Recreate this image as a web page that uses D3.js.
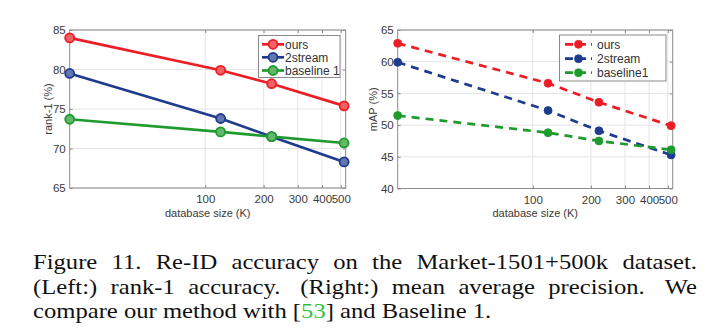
<!DOCTYPE html>
<html>
<head>
<meta charset="utf-8">
<script src="https://cdn.jsdelivr.net/npm/d3@7"></script>
<style>
  body { margin: 0; background: #fff; }
  svg { display: block; }
</style>
</head>
<body>
<svg id="fig" width="720" height="332"></svg>
<script>
// Database size (thousands of gallery images) at which each method was evaluated
const sizesK = [20, 120, 220, 520];
const xTickValues = [100, 200, 300, 400, 500];

// Rank-1 accuracy (%)
const rank1Ours = [84.0, 79.9, 78.2, 75.4];
const rank1TwoStream = [79.5, 73.8, 71.5, 68.3];
const rank1Baseline = [73.7, 72.1, 71.5, 70.7];
const rank1Ticks = [65, 70, 75, 80, 85];
const rank1Names = ["ours", "2stream", "baseline 1"];

// Mean average precision (%)
const mapOurs = [62.9, 56.6, 53.6, 49.9];
const mapTwoStream = [59.9, 52.3, 49.1, 45.3];
const mapBaseline = [51.5, 48.8, 47.5, 46.1];
const mapTicks = [40, 45, 50, 55, 60, 65];
const mapNames = ["ours", "2stream", "baseline1"];

const seriesColors = ["#ec1d24", "#1f3b8e", "#1f9a2c"];

const captionLines = [
  { text: "Figure 11. Re-ID accuracy on the Market-1501+500k dataset.", justify: true },
  { text: "(Left:) rank-1 accuracy.  (Right:) mean average precision.  We", justify: true },
  { text: "compare our method with [53] and Baseline 1.", justify: false }
];

const svg = d3.select("#fig");
const fontSans = "'Liberation Sans', Arial, Helvetica, sans-serif";
const fontSerif = "'Liberation Serif', 'Times New Roman', serif";

function panel(cfg) {
  const g = svg.append("g");
  const x = d3.scaleLog().domain([20, 530]).range([cfg.x0, cfg.x1]);
  const y = d3.scaleLinear().domain([cfg.yTicks[0], cfg.yTicks[cfg.yTicks.length - 1]]).range([cfg.y1, cfg.y0]);

  // background + grid
  g.append("rect").attr("x", cfg.x0).attr("y", cfg.y0)
    .attr("width", cfg.x1 - cfg.x0).attr("height", cfg.y1 - cfg.y0).attr("fill", "#fff");
  g.append("g").selectAll("line").data(xTickValues).join("line")
    .attr("x1", d => x(d)).attr("x2", d => x(d))
    .attr("y1", cfg.y0).attr("y2", cfg.y1)
    .attr("stroke", "#e4e4e4").attr("stroke-width", 1);
  g.append("g").selectAll("line").data(cfg.yTicks).join("line")
    .attr("x1", cfg.x0).attr("x2", cfg.x1)
    .attr("y1", d => y(d)).attr("y2", d => y(d))
    .attr("stroke", "#e4e4e4").attr("stroke-width", 1);

  // axes (ticks pointing inward on all four sides)
  const styleAxis = sel => {
    sel.select(".domain").remove();
    sel.selectAll(".tick line").attr("stroke", "#8a8a8a");
    sel.selectAll("text").attr("fill", "#3a3a3a")
      .attr("font-family", fontSans).attr("font-size", 11.5);
  };
  g.append("g").attr("transform", `translate(0,${cfg.y1})`)
    .call(d3.axisBottom(x).tickValues(xTickValues).tickFormat(d3.format("d")).tickSize(-3).tickPadding(7))
    .call(styleAxis);
  g.append("g").attr("transform", `translate(0,${cfg.y0})`)
    .call(d3.axisTop(x).tickValues(xTickValues).tickFormat("").tickSize(-3))
    .call(styleAxis);
  g.append("g").attr("transform", `translate(${cfg.x0},0)`)
    .call(d3.axisLeft(y).tickValues(cfg.yTicks).tickFormat(d3.format("d")).tickSize(-3).tickPadding(4))
    .call(styleAxis);
  g.append("g").attr("transform", `translate(${cfg.x1},0)`)
    .call(d3.axisRight(y).tickValues(cfg.yTicks).tickFormat("").tickSize(-3))
    .call(styleAxis);

  g.append("rect").attr("x", cfg.x0).attr("y", cfg.y0)
    .attr("width", cfg.x1 - cfg.x0).attr("height", cfg.y1 - cfg.y0)
    .attr("fill", "none").attr("stroke", "#8a8a8a").attr("stroke-width", 1);

  // axis titles
  g.append("text").attr("x", (cfg.x0 + cfg.x1) / 2).attr("y", 217)
    .attr("text-anchor", "middle").attr("font-family", fontSans).attr("font-size", 11)
    .attr("fill", "#3a3a3a").text("database size (K)");
  g.append("text").attr("transform", `translate(${cfg.x0 - cfg.ylabelOffset},${(cfg.y0 + cfg.y1) / 2}) rotate(-90)`)
    .attr("text-anchor", "middle").attr("font-family", fontSans).attr("font-size", 11)
    .attr("fill", "#3a3a3a").text(cfg.ylabel);

  // series
  const line = d3.line().x(d => x(d.k)).y(d => y(d.v));
  cfg.series.forEach((vals, i) => {
    const pts = sizesK.map((k, j) => ({ k, v: vals[j] }));
    const col = seriesColors[i];
    g.append("path").datum(pts).attr("d", line)
      .attr("fill", "none").attr("stroke", col).attr("stroke-width", 2.7)
      .attr("stroke-dasharray", cfg.dashed ? "8,6" : null);
    g.append("g").selectAll("circle").data(pts).join("circle")
      .attr("cx", d => x(d.k)).attr("cy", d => y(d.v))
      .attr("r", cfg.dashed ? 4 : 4.5)
      .attr("fill", cfg.dashed ? col : d3.interpolateRgb(col, "#fff")(0.3))
      .attr("stroke", col).attr("stroke-width", cfg.dashed ? 0.8 : 1.8);
  });

  // legend
  const L = cfg.legend;
  const lg = g.append("g");
  lg.append("rect").attr("x", L.x).attr("y", L.y).attr("width", L.w).attr("height", L.h)
    .attr("fill", "#fff").attr("stroke", "#8a8a8a").attr("stroke-width", 1);
  cfg.names.forEach((name, i) => {
    const yy = L.rows[i];
    const col = seriesColors[i];
    lg.append("line").attr("x1", L.s0).attr("x2", L.s1).attr("y1", yy).attr("y2", yy)
      .attr("stroke", col).attr("stroke-width", 2.7)
      .attr("stroke-dasharray", cfg.dashed ? "8,5" : null);
    lg.append("circle").attr("cx", (L.s0 + L.s1) / 2).attr("cy", yy)
      .attr("r", cfg.dashed ? 4 : 4.5)
      .attr("fill", cfg.dashed ? col : d3.interpolateRgb(col, "#fff")(0.3))
      .attr("stroke", col).attr("stroke-width", cfg.dashed ? 0.8 : 1.8);
    lg.append("text").attr("x", L.tx).attr("y", yy).attr("dy", "0.35em")
      .attr("font-family", fontSans).attr("font-size", 12).attr("fill", "#333").text(name);
  });
}

panel({
  x0: 69.7, x1: 345.7, y0: 30, y1: 188,
  yTicks: rank1Ticks, ylabel: "rank-1 (%)", ylabelOffset: 17.5,
  series: [rank1Ours, rank1TwoStream, rank1Baseline], names: rank1Names, dashed: false,
  legend: { x: 258.5, y: 35.5, w: 81.5, h: 42, rows: [44.3, 57.3, 70.5], s0: 262, s1: 284, tx: 285 }
});

panel({
  x0: 397.7, x1: 672.7, y0: 30, y1: 188.5,
  yTicks: mapTicks, ylabel: "mAP (%)", ylabelOffset: 20.5,
  series: [mapOurs, mapTwoStream, mapBaseline], names: mapNames, dashed: true,
  legend: { x: 559.5, y: 35, w: 106.5, h: 46, rows: [44.3, 58.7, 72.7], s0: 565, s1: 592, tx: 597 }
});

// caption, set in serif and justified word by word
const capScaleX = 1.12, capLeft = 33, capWidth = 664;
const capBaselines = [269, 293.5, 318];
captionLines.forEach((ln, i) => {
  const g = svg.append("g")
    .attr("transform", `translate(${capLeft},${capBaselines[i]}) scale(${capScaleX},1)`)
    .attr("font-family", fontSerif).attr("font-size", 22).attr("fill", "#111");
  if (ln.justify) {
    const parts = ln.text.split(/( +)/);
    const words = parts.filter((p, j) => j % 2 === 0);
    const gapWeights = parts.filter((p, j) => j % 2 === 1).map(s => s.length > 1 ? 1.5 : 1);
    const nodes = words.map(w => g.append("text").text(w));
    const widths = nodes.map(n => n.node().getComputedTextLength());
    const free = capWidth / capScaleX - d3.sum(widths);
    const unit = free / d3.sum(gapWeights);
    let pos = 0;
    nodes.forEach((n, j) => {
      n.attr("x", pos);
      pos += widths[j] + (j < gapWeights.length ? unit * gapWeights[j] : 0);
    });
  } else {
    const t = g.append("text").attr("x", 0).attr("xml:space", "preserve");
    const m = ln.text.match(/^(.*\[)(53)(\].*)$/);
    t.append("tspan").text(m[1]);
    t.append("tspan").attr("fill", "#33c23a").text(m[2]);
    t.append("tspan").text(m[3]);
  }
});
</script>
</body>
</html>
